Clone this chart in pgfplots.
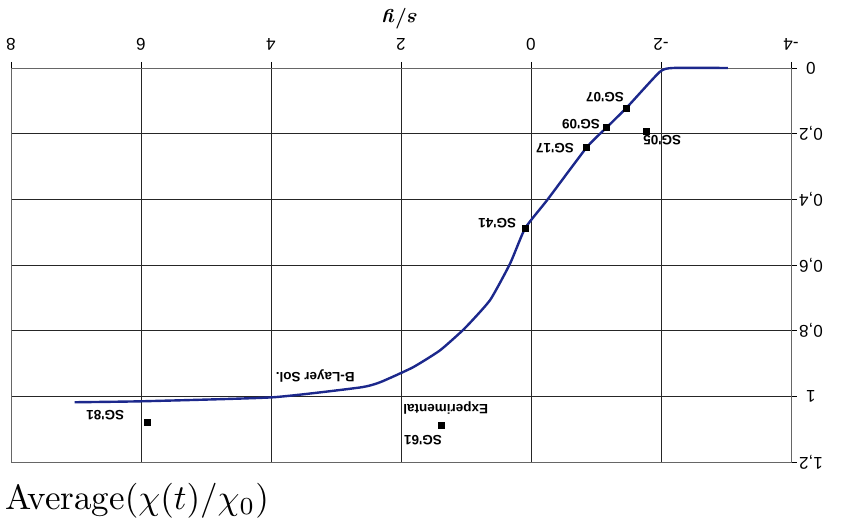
\documentclass[border=0pt]{standalone}
\usepackage{pgfplots}
\pgfplotsset{compat=1.18}
\usepackage{fontspec}
\newfontfamily\arialfont{Liberation Sans}
\definecolor{curveblue}{RGB}{28,40,140}
\begin{document}
\begin{tikzpicture}
\useasboundingbox (0pt,0pt) rectangle (857pt,525pt);
\begin{axis}[
  at={(401pt,260pt)}, anchor=center,
  scale only axis, width=780pt, height=394pt,
  x dir=reverse, y dir=reverse,
  xmin=-4, xmax=8, ymin=0, ymax=1.2,
  xtick={-4,-2,0,2,4,6,8},
  ytick={0,0.2,0.4,0.6,0.8,1,1.2},
  xtick pos=right, ytick pos=right,
  xticklabel pos=right, yticklabel pos=right,
  tick align=outside, major tick length=6pt,
  tick style={black, line width=0.8pt},
  grid=major,
  major grid style={black!85, line width=0.85pt},
  axis line style={black!60, line width=0.8pt},
  xticklabel={\arialfont\pgfmathprintnumber[assume math mode=true,use comma]{\tick}},
  yticklabel={\arialfont\pgfmathprintnumber[assume math mode=true,use comma]{\tick}},
  xticklabel style={font=\fontsize{17}{17}\selectfont, rotate=180, anchor=center, inner sep=0pt, outer sep=0pt},
  yticklabel style={font=\fontsize{17}{17}\selectfont, rotate=180, anchor=center, inner sep=0pt, outer sep=0pt},
  xticklabel shift=18pt, yticklabel shift=14pt,
  clip=false,
]
\addplot[curveblue, line width=2.4pt, smooth, tension=0.3] coordinates {
  (-3.03,0) (-2.18,0) (-1.98,0.012) (-1.48,0.119) (-1.17,0.18) (-0.86,0.241)
  (-0.25,0.402) (0.09,0.488) (0.32,0.595) (0.63,0.707) (1.02,0.793) (1.40,0.860)
  (1.82,0.912) (2.32,0.957) (2.63,0.973) (3.98,1.003) (5.97,1.015) (7.02,1.018)
};
\addplot[only marks, mark=square*, mark size=3pt, black] coordinates {
  (-1.46,0.122) (-1.15,0.18) (-1.78,0.192) (-0.85,0.241) (0.09,0.488) (1.38,1.088) (5.91,1.079)
};
\begin{scope}[every node/.style={font=\arialfont\bfseries\fontsize{13.5}{14}\selectfont, rotate=180, anchor=center, inner sep=0pt}]
\node at (axis cs:-1.14,0.088) {SG'07};
\node at (axis cs:-0.77,0.171) {SG'09};
\node at (axis cs:-2.02,0.22) {SG'05};
\node at (axis cs:-0.37,0.244) {SG'17};
\node at (axis cs:0.52,0.473) {SG'41};
\node at (axis cs:1.66,1.134) {SG'61};
\node at (axis cs:1.31,1.037) {Experimental};
\node at (axis cs:6.55,1.058) {SG'81};
\node at (axis cs:3.32,0.939) {B-Layer Sol.};
\end{scope}
\end{axis}
\node[rotate=180, font=\fontsize{20}{20}\selectfont\boldmath, inner sep=0pt] at (400pt,506pt) {$s/y$};
\node[anchor=base west, inner sep=0pt] at (5pt,16pt) {\scalebox{3.5}{Average$(\chi(t)/\chi_0)$}};
\end{tikzpicture}
\end{document}
